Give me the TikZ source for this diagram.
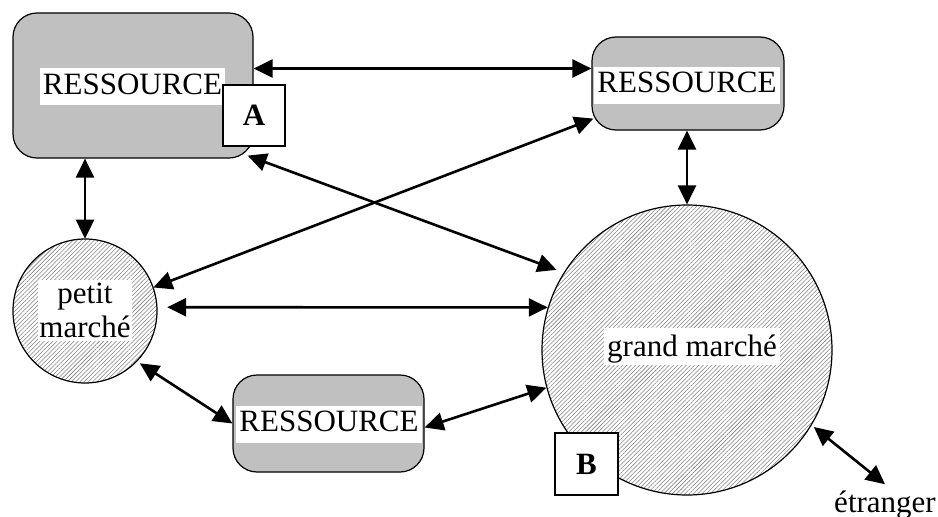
\documentclass[tikz,border=0pt]{standalone}
\usepackage{fontspec}
\setmainfont{Liberation Serif}
\usetikzlibrary{arrows.meta,patterns.meta}
\definecolor{boxgray}{RGB}{192,192,192}
\tikzset{
  res/.style={draw=black, line width=1.2pt, fill=boxgray, rounded corners=24pt, inner sep=0pt},
  lbl/.style={fill=white, font=\fontsize{31}{34}\selectfont, inner xsep=3pt, inner ysep=0pt, text height=26pt, text depth=11pt},
  market/.style={circle, draw=black, line width=1.2pt, inner sep=0pt,
    pattern={Lines[angle=45,distance=3pt,line width=0.55pt]}, pattern color=black!50},
  tagbox/.style={draw=black, line width=1.2pt, fill=white, inner sep=0pt,
    font=\bfseries\fontsize{31}{31}\selectfont},
  arr/.style={line width=2.6pt, {Triangle[length=19pt,width=18pt]}-{Triangle[length=19pt,width=18pt]}}
}
\begin{document}
\begin{tikzpicture}[x=1pt,y=-1pt]
\useasboundingbox (0,0) rectangle (938,517);
% resources
\node[res, minimum width=240pt, minimum height=145pt] (r1) at (133,85.5) {};
\node[lbl] (r1t) at (132.5,86.5) {RESSOURCE};
\node[res, minimum width=192pt, minimum height=93pt] (r2) at (688,83.5) {};
\node[lbl] (r2t) at (687,85) {RESSOURCE};
\node[res, minimum width=191pt, minimum height=97pt] (r3) at (328.5,423.5) {};
\node[lbl] (r3t) at (329,424) {RESSOURCE};
% markets
\node[market, minimum size=144pt] (pm) at (85,311) {};
\node[fill=white, align=center, font=\fontsize{31}{34}\selectfont, inner xsep=1pt, inner ysep=3pt] (pmt) at (85,310.5) {petit\\marché};
\node[market, minimum size=290pt] (gm) at (687,350) {};
\node[lbl, text height=28pt, text depth=9pt] (gmt) at (692,346.5) {grand marché};
% tags
\node[tagbox, minimum width=62pt, minimum height=61pt] (A) at (254,115.5) {A};
\node[tagbox, minimum width=63pt, minimum height=62pt] (B) at (586.5,464) {B};
% foreign
\node[font=\fontsize{31}{34}\selectfont, inner sep=0pt, anchor=base] (etr) at (885,512) {étranger};
% connectors
\draw[arr] ([yshift=17pt]r1.east) -- ([yshift=15pt]r2.west);
\draw[arr] (pm.north |- r1.south) -- (pm.north);
\draw[arr] ([shift={(-6,-3)}]r1.south east) -- ([shift={(-7,-3)}]gm.148);
\draw[arr] (pm.19) -- ([shift={(2,-12)}]r2.south west);
\draw[arr] (gm.north |- r2.south) -- (gm.north);
\draw[arr] ([xshift=10pt]pm.3) -- (gm.163);
\draw[arr] ([shift={(2,3)}]pm.-43) -- (r3.west);
\draw[arr] ([yshift=-4pt]r3.east) -- (gm.195);
\draw[arr] ([shift={(2,2)}]gm.-31) -- ([yshift=6pt]etr.north);
\end{tikzpicture}
\end{document}
